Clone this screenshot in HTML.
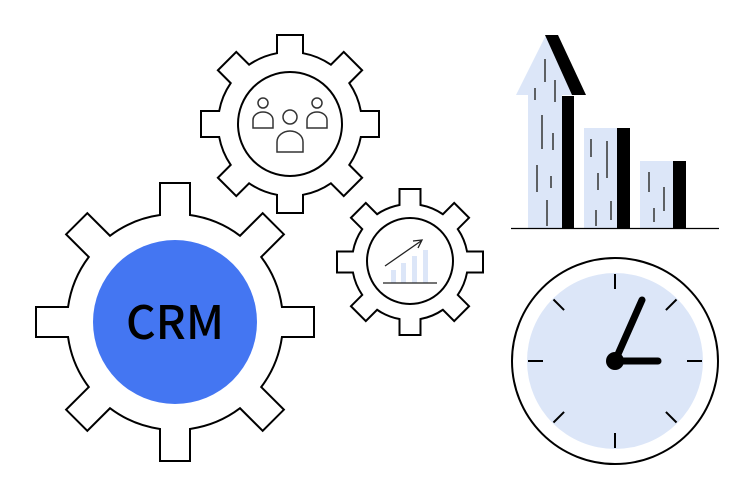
<!DOCTYPE html>
<html><head><meta charset="utf-8"><style>
html,body{margin:0;padding:0;background:#fff;width:753px;height:500px;overflow:hidden}
svg{display:block}
</style></head><body>
<svg id="s" width="753" height="500" viewBox="0 0 753 500" xmlns="http://www.w3.org/2000/svg">
<g id="gears" fill="#fff" stroke="#000" stroke-width="2" stroke-linejoin="miter"></g>
<circle cx="175" cy="322" r="82" fill="#4476f2"/>
<text x="175" y="339" text-anchor="middle" font-family="Noto Sans CJK JP, Liberation Sans, sans-serif" font-weight="500" font-size="46" fill="#000">CRM</text>
<circle cx="290" cy="124" r="52" fill="#fff" stroke="#000" stroke-width="2"/>
<g fill="#fff" stroke="#333" stroke-width="1.5">
<circle cx="263" cy="103" r="5"/><path d="M253,128 v-8 a10,8 0 0 1 20,0 v8 z"/>
<circle cx="317" cy="103" r="5"/><path d="M307,128 v-8 a10,8 0 0 1 20,0 v8 z"/>
<circle cx="290" cy="117" r="7"/><path d="M277,152 v-10 a13,11 0 0 1 26,0 v10 z"/>
</g>
<circle cx="410" cy="261" r="43" fill="#fff" stroke="#000" stroke-width="2"/>
<g fill="#dce6f8"><rect x="391" y="270" width="5" height="13"/><rect x="401" y="263" width="5" height="20"/><rect x="412" y="256" width="5" height="27"/><rect x="423" y="250" width="5" height="33"/></g>
<line x1="383" y1="283" x2="437" y2="283" stroke="#222" stroke-width="1.3"/>
<line x1="385" y1="266" x2="421" y2="241" stroke="#222" stroke-width="1.3"/>
<path d="M413,241 L422,240 L418,248" fill="none" stroke="#222" stroke-width="1.3"/>
<g fill="#dce6f8"><polygon points="528,228 528,95 516,95 546,35 572,95 562,95 562,228"/>
<rect x="584" y="128" width="33" height="100"/><rect x="640" y="161" width="33" height="67"/></g>
<g fill="#000"><rect x="562" y="96" width="12" height="132"/><polygon points="545,35 558,35 586,95 572,95"/>
<rect x="617" y="128" width="13" height="100"/><rect x="673" y="161" width="13" height="67"/></g>
<line x1="511" y1="228.5" x2="719" y2="228.5" stroke="#000" stroke-width="1.3"/>
<g stroke="#333" stroke-width="1.5">
<line x1="545" y1="59" x2="545" y2="82"/><line x1="555" y1="80" x2="555" y2="102"/><line x1="535" y1="88" x2="535" y2="100"/>
<line x1="542" y1="115" x2="542" y2="149"/><line x1="553" y1="133" x2="553" y2="150"/><line x1="537" y1="165" x2="537" y2="192"/>
<line x1="551" y1="176" x2="551" y2="188"/><line x1="547" y1="200" x2="547" y2="226"/>
<line x1="591" y1="139" x2="591" y2="157"/><line x1="607" y1="141" x2="607" y2="178"/><line x1="598" y1="173" x2="598" y2="190"/>
<line x1="611" y1="201" x2="611" y2="220"/><line x1="596" y1="210" x2="596" y2="226"/>
<line x1="649" y1="172" x2="649" y2="192"/><line x1="664" y1="187" x2="664" y2="211"/><line x1="654" y1="208" x2="654" y2="222"/>
</g>
<circle cx="615" cy="361" r="103" fill="#fff" stroke="#000" stroke-width="2"/>
<circle cx="615" cy="361" r="88" fill="#dce6f8"/>
<g id="ticks" stroke="#000" stroke-width="2"></g>
<g stroke="#000" stroke-width="7" stroke-linecap="round"><line x1="615" y1="361" x2="642" y2="300"/><line x1="615" y1="361" x2="658" y2="361"/></g>
<circle cx="615" cy="361" r="9" fill="#000"/>
</svg>
<script>
function gear(cx,cy,R,T,w,n){var p="",a0=-Math.PI/2;var al=Math.asin(w/R);
for(var i=0;i<n;i++){var t=a0+i*2*Math.PI/n;var c=Math.cos(t),s=Math.sin(t);
function P(r,o){return [cx+r*c-o*s,cy+r*s+o*c];}
var bA=[cx+R*Math.cos(t-al),cy+R*Math.sin(t-al)],bB=[cx+R*Math.cos(t+al),cy+R*Math.sin(t+al)];
var tA=P(T,-w),tB=P(T,w);
p+=(i==0?"M":"A"+R+","+R+" 0 0 1 ")+bA.join(",")+" L"+tA.join(",")+" L"+tB.join(",")+" L"+bB.join(",")+" ";}
var t=a0,b=[cx+R*Math.cos(t-al),cy+R*Math.sin(t-al)];p+="A"+R+","+R+" 0 0 1 "+b.join(",")+"Z";
var e=document.createElementNS("http://www.w3.org/2000/svg","path");e.setAttribute("d",p);document.getElementById("gears").appendChild(e);}
gear(290,124,72,89,13,8);gear(410,262,58,73,10.5,8);gear(175,322,108,139,15,8);
var g=document.getElementById("ticks");for(var i=0;i<8;i++){var t=i*Math.PI/4;var l=document.createElementNS("http://www.w3.org/2000/svg","line");
var r1=72,r2=87;l.setAttribute("x1",615+r1*Math.cos(t));l.setAttribute("y1",361+r1*Math.sin(t));l.setAttribute("x2",615+r2*Math.cos(t));l.setAttribute("y2",361+r2*Math.sin(t));g.appendChild(l);}
</script>
</body></html>
